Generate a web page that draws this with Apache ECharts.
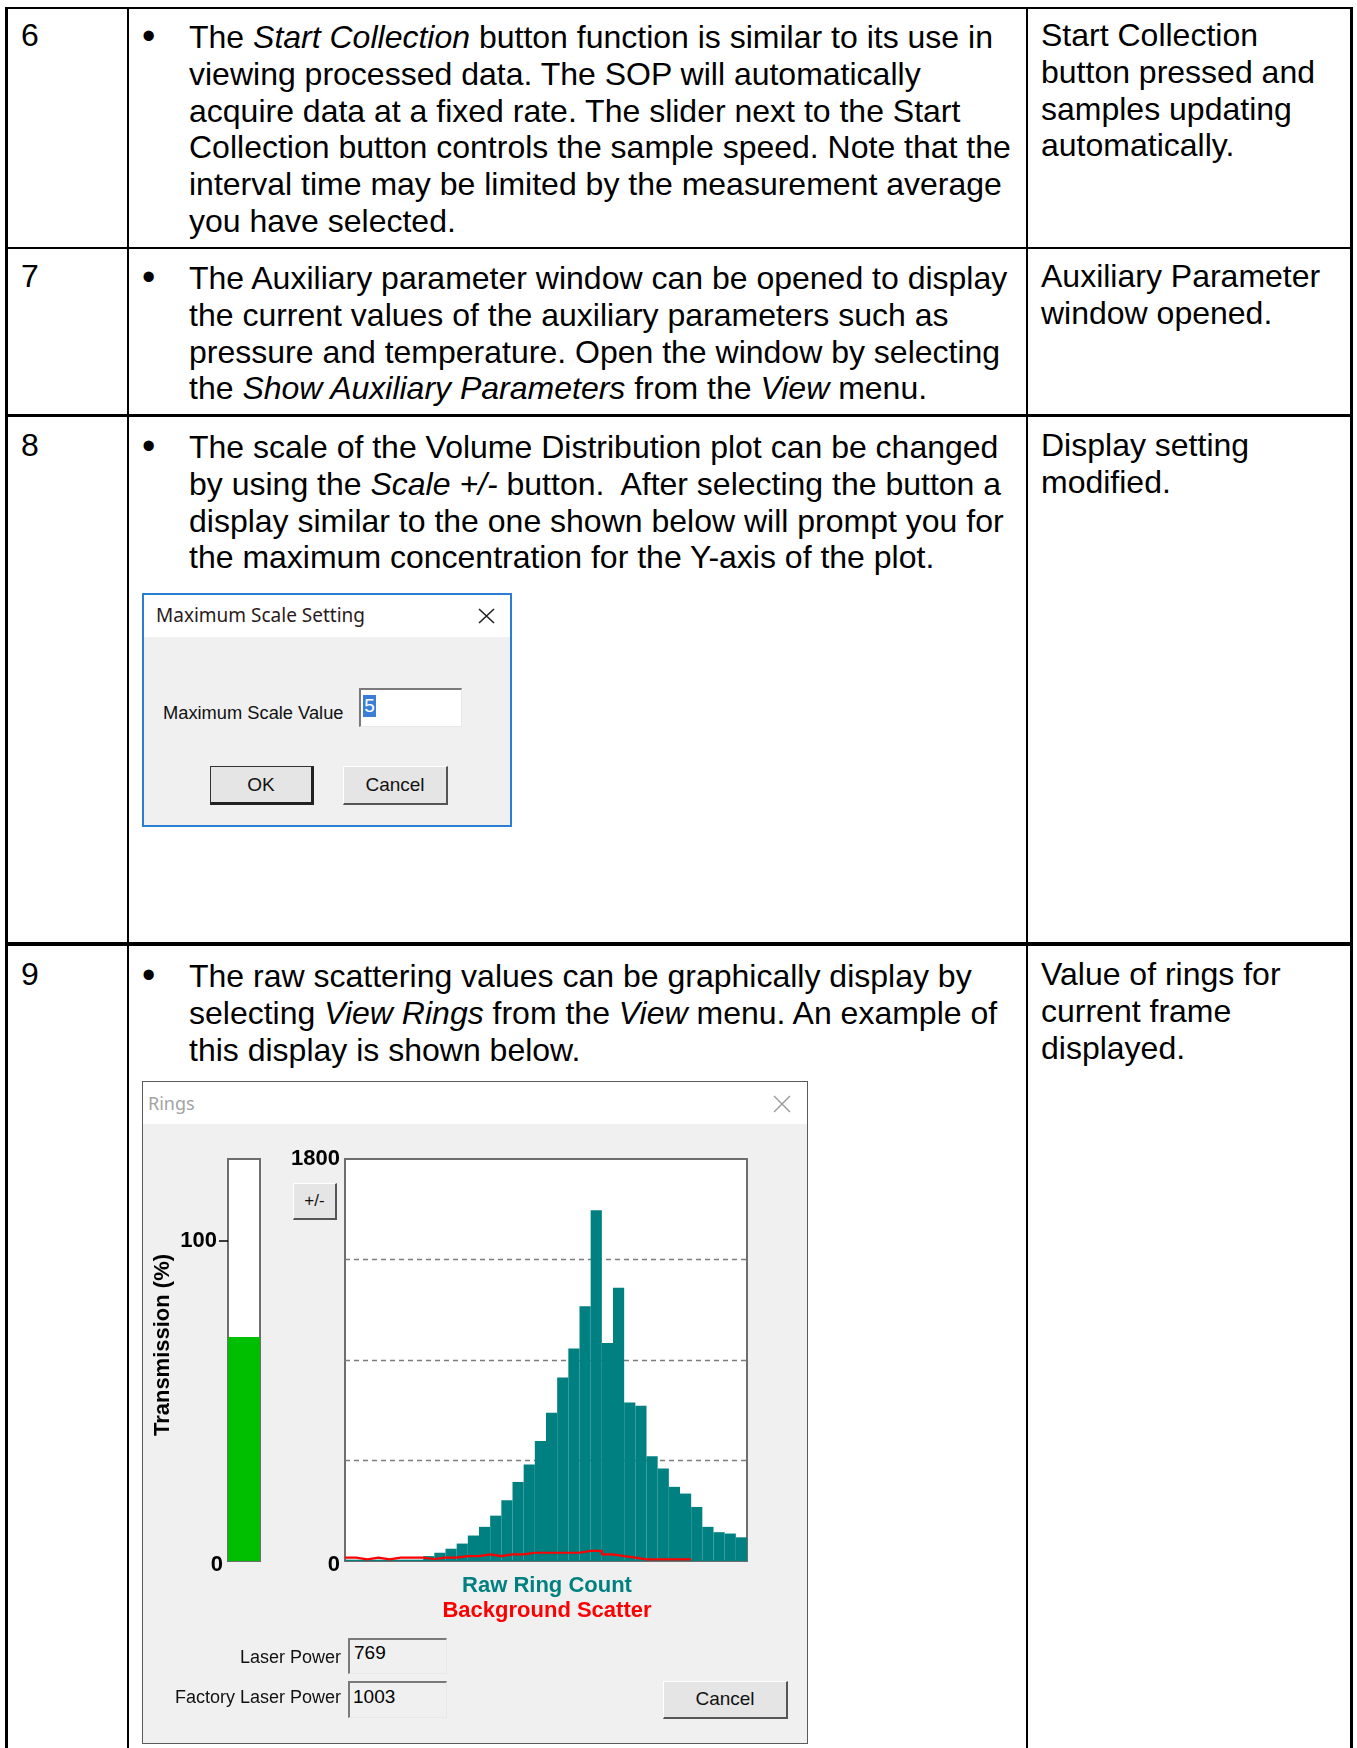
<!DOCTYPE html>
<html>
<head>
<meta charset="utf-8">
<script src="https://cdn.jsdelivr.net/npm/echarts@6/dist/echarts.min.js"></script>
<style>
  body { margin: 0; background: #fff; }
  #page { position: relative; width: 1357px; height: 1748px; overflow: hidden; background: #fff;
          font-family: 'Liberation Sans', Arial, sans-serif; color: #000; }
  .ln { position: absolute; background: #000; }
  .t { position: absolute; font-size: 32px; line-height: 36.8px; white-space: nowrap; }
  .t > div { height: 36.8px; white-space: pre; }
  .bul { position: absolute; font-size: 38px; line-height: 36.8px; }
  .abs { position: absolute; white-space: pre; }
  .btn { position: absolute; box-sizing: border-box; background: #e5e5e5;
         border-style: solid; border-width: 1px 2px 2px 1px; border-color: #fff #555 #555 #fff;
         text-align: center; font-size: 19px; color: #111; }
  .box { position: absolute; box-sizing: border-box; border-style: solid; border-width: 2px 1px 1px 2px;
         border-color: #7a7a7a #e8e8e8 #e8e8e8 #7a7a7a; font-size: 19px; }
  .dlg { position: absolute; box-sizing: border-box; background: #f0f0f0; }
  #rings { position: absolute; left: 143px; top: 1124px; width: 664px; height: 620px; }
</style>
</head>
<body>
<div id="page">

  <!-- table rules -->
  <div class="ln" style="left:6px;top:7px;width:1346px;height:2px"></div>
  <div class="ln" style="left:5px;top:7px;width:3px;height:1741px"></div>
  <div class="ln" style="left:127px;top:7px;width:2px;height:1741px"></div>
  <div class="ln" style="left:1026px;top:7px;width:2px;height:1741px"></div>
  <div class="ln" style="left:1350px;top:7px;width:3px;height:1741px"></div>
  <div class="ln" style="left:5px;top:247px;width:1348px;height:2px"></div>
  <div class="ln" style="left:5px;top:414px;width:1348px;height:3px"></div>
  <div class="ln" style="left:5px;top:942px;width:1348px;height:4px"></div>

  <!-- row 6 -->
  <div class="t" style="left:21px;top:17px">6</div>
  <div class="bul" style="left:142px;top:18px">•</div>
  <div class="t" style="left:189px;top:19px">
    <div><span>The </span><i>Start Collection</i><span> button function is similar to its use in</span></div>
    <div>viewing processed data. The SOP will automatically</div>
    <div>acquire data at a fixed rate. The slider next to the Start</div>
    <div>Collection button controls the sample speed. Note that the</div>
    <div>interval time may be limited by the measurement average</div>
    <div>you have selected.</div>
  </div>
  <div class="t" style="left:1041px;top:17px">
    <div>Start Collection</div>
    <div>button pressed and</div>
    <div>samples updating</div>
    <div>automatically.</div>
  </div>

  <!-- row 7 -->
  <div class="t" style="left:21px;top:258px">7</div>
  <div class="bul" style="left:142px;top:259px">•</div>
  <div class="t" style="left:189px;top:260px">
    <div>The Auxiliary parameter window can be opened to display</div>
    <div>the current values of the auxiliary parameters such as</div>
    <div>pressure and temperature. Open the window by selecting</div>
    <div><span>the </span><i>Show Auxiliary Parameters</i><span> from the </span><i>View</i><span> menu.</span></div>
  </div>
  <div class="t" style="left:1041px;top:258px">
    <div>Auxiliary Parameter</div>
    <div>window opened.</div>
  </div>

  <!-- row 8 -->
  <div class="t" style="left:21px;top:427px">8</div>
  <div class="bul" style="left:142px;top:428px">•</div>
  <div class="t" style="left:189px;top:429px">
    <div>The scale of the Volume Distribution plot can be changed</div>
    <div><span>by using the </span><i>Scale +/-</i><span> button.  After selecting the button a</span></div>
    <div>display similar to the one shown below will prompt you for</div>
    <div>the maximum concentration for the Y-axis of the plot.</div>
  </div>
  <div class="t" style="left:1041px;top:427px">
    <div>Display setting</div>
    <div>modified.</div>
  </div>

  <!-- Maximum Scale Setting dialog -->
  <div class="dlg" style="left:142px;top:593px;width:370px;height:234px;border:2px solid #2a7fd4"></div>
  <div class="abs" style="left:144px;top:595px;width:366px;height:42px;background:#fff"></div>
  <div class="abs" style="left:156px;top:602px;font-family:'Noto Sans',sans-serif;font-size:19px;line-height:26px;color:#2a1a1a">Maximum Scale Setting</div>
  <svg class="abs" style="left:477px;top:608px" width="19" height="16"><path d="M2 1 L17 15 M17 1 L2 15" stroke="#222" stroke-width="1.6"/></svg>
  <div class="abs" style="left:163px;top:702px;font-size:18.3px;line-height:22px;color:#111">Maximum Scale Value</div>
  <div class="box" style="left:359px;top:688px;width:103px;height:39px;background:#fff"></div>
  <div class="abs" style="left:363px;top:695px;width:13px;height:22px;background:#3b7ed8;color:#fff;font-size:19px;line-height:22px;text-align:center">5</div>
  <div class="btn" style="left:210px;top:766px;width:104px;height:39px;line-height:35px;border-color:#333 #222 #222 #333;border-width:1px 3px 3px 1px">OK</div>
  <div class="btn" style="left:343px;top:766px;width:105px;height:39px;line-height:35px">Cancel</div>

  <!-- row 9 -->
  <div class="t" style="left:21px;top:956px">9</div>
  <div class="bul" style="left:142px;top:957px">•</div>
  <div class="t" style="left:189px;top:958px">
    <div>The raw scattering values can be graphically display by</div>
    <div><span>selecting </span><i>View Rings</i><span> from the </span><i>View</i><span> menu. An example of</span></div>
    <div>this display is shown below.</div>
  </div>
  <div class="t" style="left:1041px;top:956px">
    <div>Value of rings for</div>
    <div>current frame</div>
    <div>displayed.</div>
  </div>

  <!-- Rings dialog -->
  <div class="dlg" style="left:142px;top:1081px;width:666px;height:663px;border:1px solid #5a5a5a"></div>
  <div class="abs" style="left:143px;top:1082px;width:664px;height:42px;background:#fff"></div>
  <div class="abs" style="left:148px;top:1091px;font-family:'Noto Sans',sans-serif;font-size:18px;line-height:24px;color:#a3a3a3">Rings</div>
  <svg class="abs" style="left:773px;top:1095px" width="18" height="18"><path d="M1 1 L17 17 M17 1 L1 17" stroke="#9a9a9a" stroke-width="1.4"/></svg>

  <div id="rings"></div>

  <div class="btn" style="left:293px;top:1183px;width:44px;height:37px;line-height:33px;font-size:17px;z-index:5">+/-</div>
  <div class="abs" style="left:0;top:1646px;width:341px;text-align:right;font-size:18px;line-height:22px;color:#111">Laser Power</div>
  <div class="box" style="left:348px;top:1638px;width:99px;height:36px;background:#f0f0f0;padding-left:4px;line-height:26px">769</div>
  <div class="abs" style="left:0;top:1686px;width:341px;text-align:right;font-size:18px;line-height:22px;color:#111">Factory Laser Power</div>
  <div class="box" style="left:348px;top:1681px;width:99px;height:37px;background:#f0f0f0;padding-left:3px;line-height:28px">1003</div>
  <div class="btn" style="left:663px;top:1681px;width:125px;height:38px;line-height:34px">Cancel</div>
</div>

<script>
// ring bins (detector rings 1..36)
const rings = ['1','2','3','4','5','6','7','8','9','10','11','12','13','14','15','16','17','18',
  '19','20','21','22','23','24','25','26','27','28','29','30','31','32','33','34','35','36'];
// raw ring count per ring
const rawRingCount = [6, 6, 6, 6, 6, 6, 6, 22, 37, 55, 78, 114, 153, 203, 272, 354, 432, 537,
  664, 822, 951, 1141, 1570, 976, 1224, 710, 695, 469, 414, 332, 302, 242, 153, 129, 123, 106];
// background scatter, rings 1..31
const backgroundScatter = [15, 7, 15, 7, 15, 15, 15, 9, 15, 15, 22, 22, 30, 22, 30, 30, 37, 37,
  37, 37, 37, 45, 45, 30, 22, 15, 7, 7, 7, 7, 7];
// transmission (%)
const transmission = [70];
// tick labels
const ringTicks = [0, 1800];
const transTicks = [0, 100];

// step line points: each value held across its ring bin
const bgPoints = backgroundScatter.map((v, i) => [i, v]);
bgPoints.push([backgroundScatter.length, backgroundScatter[backgroundScatter.length - 1]]);

const lbl = { color: '#000', fontFamily: 'Liberation Sans', fontWeight: 'bold', fontSize: 22 };

const chart = echarts.init(document.getElementById('rings'));
chart.setOption({
  animation: false,
  backgroundColor: 'transparent',
  grid: [
    { left: 85, top: 35, width: 32, height: 402, show: true, backgroundColor: '#fff', borderColor: '#6e6e6e', borderWidth: 2 },
    { left: 202, top: 35, width: 402, height: 402, show: true, backgroundColor: '#fff', borderColor: '#6e6e6e', borderWidth: 2 }
  ],
  xAxis: [
    { gridIndex: 0, type: 'category', data: ['T'], show: false },
    { gridIndex: 1, type: 'category', data: rings, show: false },
    { gridIndex: 1, type: 'value', min: 0, max: rings.length, show: false }
  ],
  yAxis: [
    {
      gridIndex: 0, type: 'value', min: 0, max: 125.6,
      axisLine: { show: false },
      axisTick: { show: true, customValues: [100], length: 9, lineStyle: { color: '#000', width: 1.5 } },
      axisLabel: Object.assign({
        customValues: transTicks, margin: 5,
        formatter: v => (v === 0 ? '{z|0}' : '{h|' + v + '}'),
        rich: { z: Object.assign({ padding: [8, 0, 0, 0] }, lbl), h: Object.assign({ padding: [0, 6, 0, 0] }, lbl) }
      }, lbl),
      splitLine: { show: false }
    },
    {
      gridIndex: 1, type: 'value', min: 0, max: 1800, interval: 450,
      axisLine: { show: false },
      axisTick: { show: false },
      axisLabel: Object.assign({
        customValues: ringTicks, margin: 5,
        formatter: v => (v === 0 ? '{z|0}' : '{h|' + v + '}'),
        rich: { z: Object.assign({ padding: [8, 0, 0, 0] }, lbl), h: Object.assign({}, lbl) }
      }, lbl),
      splitLine: { show: true, showMinLine: false, showMaxLine: false,
        lineStyle: { color: '#7c7c7c', type: [5, 4], width: 1.4 } }
    }
  ],
  series: [
    {
      type: 'bar', xAxisIndex: 0, yAxisIndex: 0, data: transmission,
      barWidth: '100%', itemStyle: { color: '#00bf00' }
    },
    {
      name: 'Raw Ring Count', type: 'bar', xAxisIndex: 1, yAxisIndex: 1, data: rawRingCount,
      barCategoryGap: '0%', itemStyle: { color: '#008080' }
    },
    {
      name: 'Background Scatter', type: 'line', xAxisIndex: 2, yAxisIndex: 1, data: bgPoints,
      step: 'end', symbol: 'none', lineStyle: { color: '#ff0000', width: 2.2 }, z: 5
    }
  ],
  graphic: [
    { type: 'text', x: 20, y: 221, rotation: Math.PI / 2,
      style: { text: 'Transmission (%)', fill: '#000', font: 'bold 22px "Liberation Sans"', align: 'center', verticalAlign: 'middle' } },
    { type: 'text', x: 404, y: 462,
      style: { text: 'Raw Ring Count', fill: '#008080', font: 'bold 22px "Liberation Sans"', align: 'center', verticalAlign: 'middle' } },
    { type: 'text', x: 404, y: 487,
      style: { text: 'Background Scatter', fill: '#ff0000', font: 'bold 22px "Liberation Sans"', align: 'center', verticalAlign: 'middle' } }
  ]
});
</script>
</body>
</html>
